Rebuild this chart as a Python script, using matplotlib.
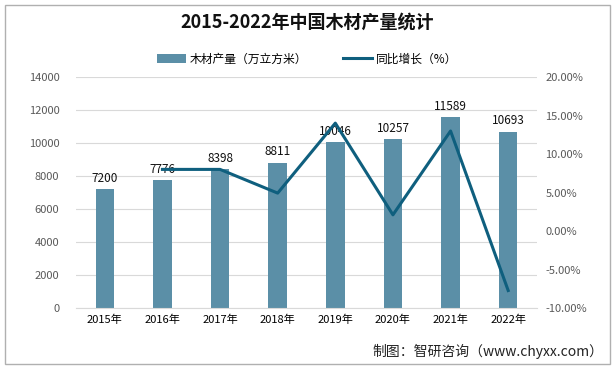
import matplotlib
matplotlib.use("Agg")
import matplotlib.pyplot as plt
from matplotlib.patches import Rectangle
from matplotlib.ticker import FuncFormatter

plt.rcParams['font.family'] = ['Noto Sans CJK SC', 'DejaVu Sans']

years = ['2015年', '2016年', '2017年', '2018年', '2019年', '2020年', '2021年', '2022年']
production = [7200, 7776, 8398, 8811, 10046, 10257, 11589, 10693]
growth = [None, 8.0, 8.0, 4.92, 14.01, 2.10, 12.99, -7.73]

bar_color = '#5b8fa7'
line_color = '#0f5f7e'

fig = plt.figure(figsize=(6.14, 3.70), dpi=100)
fig.patches.append(Rectangle((0.008, 0.015), 0.985, 0.972, transform=fig.transFigure,
                             fill=False, edgecolor='#b0b0b0', linewidth=1.0))

ax = fig.add_axes([76/614, 1-308/370, (537-76)/614, (308-77)/370])
x = list(range(len(years)))
bars = ax.bar(x, production, width=0.32, color=bar_color, zorder=2, label='木材产量（万立方米）')
ax.set_ylim(0, 14000)
ax.set_yticks(range(0, 14001, 2000))
ax.set_xlim(-0.5, len(years)-0.5)
ax.set_xticks(x)
ax.set_xticklabels(years, fontsize=8)
ax.tick_params(axis='y', labelsize=8, colors='#595959', length=0, pad=12)
ax.tick_params(axis='x', length=0, pad=5, labelsize=8)
ax.grid(axis='y', color='#d9d9d9', linewidth=0.8, zorder=0)
for s in ['top', 'right', 'left']:
    ax.spines[s].set_visible(False)
ax.spines['bottom'].set_color('#d9d9d9')
for xi, v in zip(x, production):
    ax.text(xi, v + 250, str(v), ha='center', va='bottom', fontsize=8.5, color='#111111', zorder=4)

ax2 = ax.twinx()
gx = [xi for xi, g in zip(x, growth) if g is not None]
gy = [g for g in growth if g is not None]
ax2.plot(gx, gy, color=line_color, linewidth=2.2, zorder=3, label='同比增长（%）')
ax2.set_ylim(-10, 20)
ax2.set_yticks(range(-10, 21, 5))
ax2.yaxis.set_major_formatter(FuncFormatter(lambda v, p: f'{v:.2f}%'))
ax2.tick_params(axis='y', labelsize=8, colors='#595959', length=0, pad=6)
for s in ['top', 'right', 'left', 'bottom']:
    ax2.spines[s].set_visible(False)
ax.set_zorder(1)
ax2.set_zorder(2)
ax2.patch.set_visible(False)

fig.text(0.5, 1-22/370, '2015-2022年中国木材产量统计', ha='center', va='center',
         fontsize=13, fontweight='bold', color='#111111')

h1, l1 = ax.get_legend_handles_labels()
h2, l2 = ax2.get_legend_handles_labels()
fig.legend(h1 + h2, l1 + l2, loc='center', bbox_to_anchor=(0.5, 1-59/370), ncol=2,
           frameon=False, handlelength=2.5, columnspacing=3.0,
           handletextpad=0.3, prop={'size': 8.5})

fig.text(0.982, 1-351/370, '制图：智研咨询（www.chyxx.com）', ha='right', va='center',
         fontsize=10, color='#222222')

fig.savefig('out.png', dpi=100)
